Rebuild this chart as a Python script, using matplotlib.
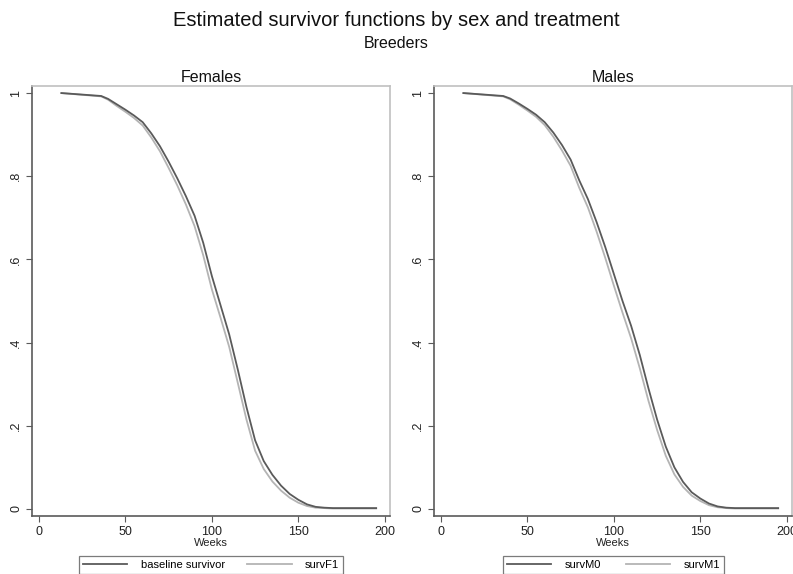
import matplotlib
matplotlib.use("Agg")
import matplotlib.pyplot as plt

plt.rcParams["font.family"] = ["Liberation Sans", "DejaVu Sans"]

# estimated survivor functions
weeks = [13, 36, 40, 45, 50, 55, 60, 65, 70, 75, 80, 85, 90, 95, 100, 105,
         110, 115, 120, 125, 130, 135, 140, 145, 150, 155, 160, 165, 170, 195]

surv_f0 = [1.0, 0.993, 0.986, 0.973, 0.96, 0.946, 0.93, 0.903, 0.872, 0.835,
           0.795, 0.752, 0.705, 0.64, 0.56, 0.49, 0.42, 0.335, 0.245, 0.165,
           0.115, 0.082, 0.056, 0.036, 0.022, 0.011, 0.005, 0.003, 0.002, 0.002]
surv_f1 = [1.0, 0.992, 0.984, 0.969, 0.955, 0.94, 0.922, 0.893, 0.86, 0.82,
           0.778, 0.732, 0.68, 0.61, 0.528, 0.46, 0.39, 0.303, 0.215, 0.14,
           0.096, 0.066, 0.044, 0.027, 0.015, 0.007, 0.003, 0.002, 0.001, 0.001]
surv_m0 = [1.0, 0.993, 0.987, 0.975, 0.962, 0.948, 0.93, 0.905, 0.875, 0.84,
           0.79, 0.745, 0.69, 0.63, 0.565, 0.50, 0.44, 0.37, 0.29, 0.215,
           0.15, 0.10, 0.065, 0.04, 0.025, 0.013, 0.006, 0.003, 0.002, 0.002]
surv_m1 = [1.0, 0.992, 0.985, 0.972, 0.958, 0.943, 0.923, 0.895, 0.862, 0.825,
           0.772, 0.725, 0.667, 0.604, 0.537, 0.472, 0.41, 0.338, 0.26, 0.19,
           0.128, 0.083, 0.053, 0.032, 0.019, 0.009, 0.004, 0.002, 0.001, 0.001]

yticks = [0, 0.2, 0.4, 0.6, 0.8, 1]
ytick_labels = ["0", ".2", ".4", ".6", ".8", "1"]
xticks = [0, 50, 100, 150, 200]

dark = "#5a5a5a"
light = "#b4b4b4"
W, H = 793, 574

fig = plt.figure(figsize=(W / 100, H / 100), dpi=100)
fig.text(0.5, 1 - 20 / H, "Estimated survivor functions by sex and treatment",
         ha="center", va="center", fontsize=14.5, color="#111111")
fig.text(0.5, 1 - 44 / H, "Breeders", ha="center", va="center",
         fontsize=11.5, color="#111111")

panels = [
    (32, "Females", surv_f0, surv_f1, "baseline survivor", "survF1", 79, 343),
    (434, "Males", surv_m0, surv_m1, "survM0", "survM1", 503, 724),
]

for left, title, s0, s1, lab0, lab1, lg_l, lg_r in panels:
    ax = fig.add_axes([left / W, 1 - 516 / H, 358 / W, 430 / H])
    ax.plot(weeks, s1, color=light, lw=1.3, label=lab1, zorder=2)
    ax.plot(weeks, s0, color=dark, lw=1.3, label=lab0, zorder=3)
    ax.set_xlim(-4, 203)
    ax.set_ylim(-0.017, 1.017)
    ax.set_xticks(xticks)
    ax.set_yticks(yticks)
    ax.set_yticklabels(ytick_labels, rotation=90, va="center")
    ax.tick_params(direction="out", length=4, width=0.8, color=dark,
                   labelsize=9, labelcolor="#222222", pad=3)
    ax.set_xlabel("Weeks", fontsize=8, labelpad=0, color="#222222")
    ax.set_title(title, fontsize=11.5, pad=3, color="#111111")
    for side in ["left", "bottom"]:
        ax.spines[side].set_color(dark)
        ax.spines[side].set_linewidth(1.2)
    for side in ["top", "right"]:
        ax.spines[side].set_color("#c0c0c0")
        ax.spines[side].set_linewidth(1.2)

    handles, labels = ax.get_legend_handles_labels()
    leg = fig.legend(handles[::-1], labels[::-1], ncol=2, mode="expand",
                     bbox_to_anchor=(lg_l / W, 0.5 / H, (lg_r - lg_l) / W, 21 / H),
                     loc="lower left", fontsize=8, frameon=True, fancybox=False,
                     handlelength=4, handletextpad=1.2, borderaxespad=0,
                     borderpad=0.35, edgecolor=dark)
    leg.get_frame().set_linewidth(0.9)

fig.savefig("out.png", dpi=100)
